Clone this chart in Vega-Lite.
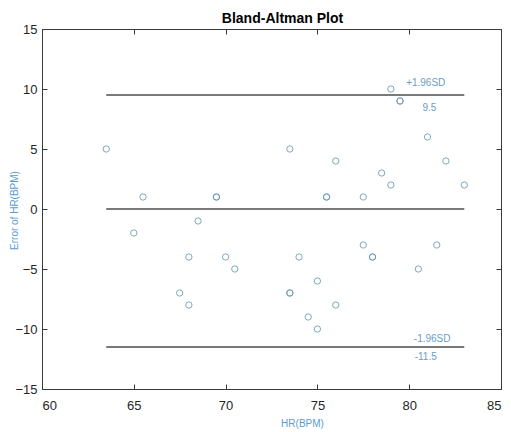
{
  "$schema": "https://vega.github.io/schema/vega-lite/v6.json",
  "autosize": {"type": "none"},
  "padding": {"left": 42, "top": 29, "right": 10, "bottom": 43},
  "width": 459,
  "height": 360,
  "background": "white",
  "config": {
    "view": {"stroke": "#3a3a3a", "strokeWidth": 1},
    "font": "Liberation Sans",
    "axis": {
      "domain": false,
      "grid": false,
      "tickColor": "#3a3a3a",
      "tickSize": -5,
      "labelFont": "Liberation Sans",
      "labelFontSize": 13,
      "labelColor": "#262626",
      "titleFont": "Liberation Sans",
      "titleFontSize": 10,
      "titleFontWeight": "normal",
      "titleColor": "#5b9bd5"
    }
  },
  "title": {
    "text": "Bland-Altman Plot",
    "font": "Liberation Sans",
    "fontSize": 14,
    "fontWeight": "bold",
    "color": "#000000",
    "anchor": "middle",
    "dx": 11,
    "dy": 21,
    "baseline": "bottom",
    "offset": 4
  },
  "datasets": {
    "points": [
      {"hr": 63.5, "err": 5}, {"hr": 65.5, "err": 1}, {"hr": 69.5, "err": 1}, {"hr": 69.5, "err": 1},
      {"hr": 65, "err": -2}, {"hr": 68.5, "err": -1}, {"hr": 68, "err": -4}, {"hr": 70, "err": -4},
      {"hr": 70.5, "err": -5}, {"hr": 67.5, "err": -7}, {"hr": 68, "err": -8},
      {"hr": 77.5, "err": -3}, {"hr": 78, "err": -4}, {"hr": 78, "err": -4}, {"hr": 81.5, "err": -3},
      {"hr": 80.5, "err": -5}, {"hr": 74, "err": -4}, {"hr": 75, "err": -6}, {"hr": 73.5, "err": -7},
      {"hr": 73.5, "err": -7}, {"hr": 76, "err": -8}, {"hr": 74.5, "err": -9}, {"hr": 75, "err": -10},
      {"hr": 79, "err": 10}, {"hr": 79.5, "err": 9}, {"hr": 79.5, "err": 9}, {"hr": 73.5, "err": 5},
      {"hr": 81, "err": 6}, {"hr": 76, "err": 4}, {"hr": 82, "err": 4}, {"hr": 78.5, "err": 3},
      {"hr": 79, "err": 2}, {"hr": 83, "err": 2}, {"hr": 75.5, "err": 1}, {"hr": 75.5, "err": 1},
      {"hr": 77.5, "err": 1}
    ],
    "limits": [
      {"start": 63.5, "end": 83, "level": 9.5},
      {"start": 63.5, "end": 83, "level": 0},
      {"start": 63.5, "end": 83, "level": -11.5}
    ],
    "notes": [
      {"hr": 80.9, "err": 10.5, "text": "+1.96SD"},
      {"hr": 81.1, "err": 8.4, "text": "9.5"},
      {"hr": 81.25, "err": -10.8, "text": "-1.96SD"},
      {"hr": 80.9, "err": -12.3, "text": "-11.5"}
    ]
  },
  "layer": [
    {
      "data": {"name": "limits"},
      "mark": {"type": "rule", "color": "#4d4d4d", "strokeWidth": 1.3},
      "encoding": {
        "x": {
          "field": "start", "type": "quantitative",
          "scale": {"domain": [60, 85], "nice": false, "zero": false},
          "axis": {"orient": "top", "values": [60, 65, 70, 75, 80, 85], "labels": false, "title": null}
        },
        "x2": {"field": "end"},
        "y": {
          "field": "level", "type": "quantitative",
          "scale": {"domain": [-15, 15], "nice": false, "zero": false},
          "axis": {"orient": "right", "values": [-15, -10, -5, 0, 5, 10, 15], "labels": false, "title": null}
        }
      }
    },
    {
      "data": {"name": "points"},
      "mark": {"type": "point", "shape": "circle", "filled": false, "size": 40, "strokeWidth": 1, "color": "#5e97ab", "opacity": 0.8},
      "encoding": {
        "x": {
          "field": "hr", "type": "quantitative",
          "axis": {
            "orient": "bottom", "values": [60, 65, 70, 75, 80, 85], "labelPadding": 15,
            "title": "HR(BPM)", "titleX": 260, "titleY": 34, "titleBaseline": "middle"
          }
        },
        "y": {
          "field": "err", "type": "quantitative",
          "axis": {
            "orient": "left", "values": [-15, -10, -5, 0, 5, 10, 15], "labelPadding": 10,
            "title": "Error of HR(BPM)", "titleX": -28, "titleY": 181, "titleBaseline": "middle", "titleAngle": 270
          }
        }
      }
    },
    {
      "data": {"name": "notes"},
      "mark": {"type": "text", "font": "Liberation Sans", "fontSize": 10, "color": "#6a9cc8", "align": "center", "baseline": "middle"},
      "encoding": {
        "x": {"field": "hr", "type": "quantitative", "axis": null},
        "y": {"field": "err", "type": "quantitative", "axis": null},
        "text": {"field": "text"}
      }
    }
  ],
  "resolve": {"axis": {"x": "independent", "y": "independent"}}
}
